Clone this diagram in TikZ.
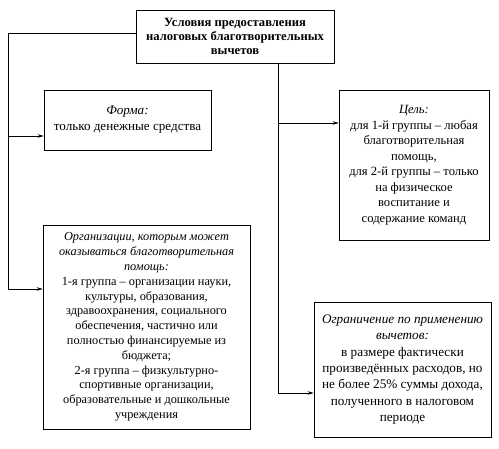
\documentclass[tikz,border=0pt]{standalone}
\usepackage{fontspec}
\setmainfont{Liberation Serif}
\usetikzlibrary{arrows.meta}

\begin{document}
\begin{tikzpicture}[x=1pt, y=-1pt, line width=0.6pt, >={Stealth[length=6pt, width=3.5pt]},
  condbox/.style={draw, rectangle, align=center, inner sep=1pt}]
\useasboundingbox (0,0) rectangle (499,449);
\node[condbox, minimum width=198pt, minimum height=53pt, font=\fontsize{12.6}{14}\selectfont\bfseries] (top) at (235, 36.5) {Условия предоставления\\налоговых благотворительных\\вычетов};
\node[condbox, minimum width=167pt, minimum height=60pt, font=\fontsize{13.1}{16}\selectfont] (form) at (127.5, 120) {\textit{Форма:}\\только денежные средства};
\node[condbox, minimum width=150pt, minimum height=150pt, font=\fontsize{12.6}{15.5}\selectfont] (goal) at (414, 165) {\textit{Цель:}\\для 1-й группы – любая\\благотворительная\\помощь,\\для 2-й группы – только\\на физическое\\воспитание и\\содержание команд};
\node[condbox, minimum width=207pt, minimum height=204pt, font=\fontsize{12.3}{14.8}\selectfont] (org) at (146.5, 327) {\textit{Организации, которым может}\\\textit{оказываться благотворительная}\\\textit{помощь:}\\1-я группа – организации науки,\\культуры, образования,\\здравоохранения, социального\\обеспечения, частично или\\полностью финансируемые из\\бюджета;\\2-я группа – физкультурно-\\спортивные организации,\\образовательные и дошкольные\\учреждения};
\node[condbox, minimum width=177pt, minimum height=135pt, font=\fontsize{13.2}{16.4}\selectfont] (limit) at (402.5, 369.5) {\textit{Ограничение по применению}\\\textit{вычетов:}\\в размере фактически\\произведённых расходов, но\\не более 25\% суммы дохода,\\полученного в налоговом\\периоде};
\coordinate (lefttop) at (8, 33);
\coordinate (formjoin) at (8, 136);
\coordinate (leftbottom) at (8, 289);
\coordinate (goaljoin) at (278, 123);
\coordinate (rightbottom) at (278, 393);
\draw ([yshift=3.5pt]top.west) -- (lefttop) -- (leftbottom);
\draw[->] (formjoin) -- ([yshift=-16pt]form.west);
\draw[->] (leftbottom) -- ([yshift=38pt]org.west);
\draw ([xshift=43pt]top.south) -- (rightbottom);
\draw[->] (goaljoin) -- ([yshift=42pt]goal.west);
\draw[->] (rightbottom) -- ([yshift=-23.5pt]limit.west);
\end{tikzpicture}
\end{document}
